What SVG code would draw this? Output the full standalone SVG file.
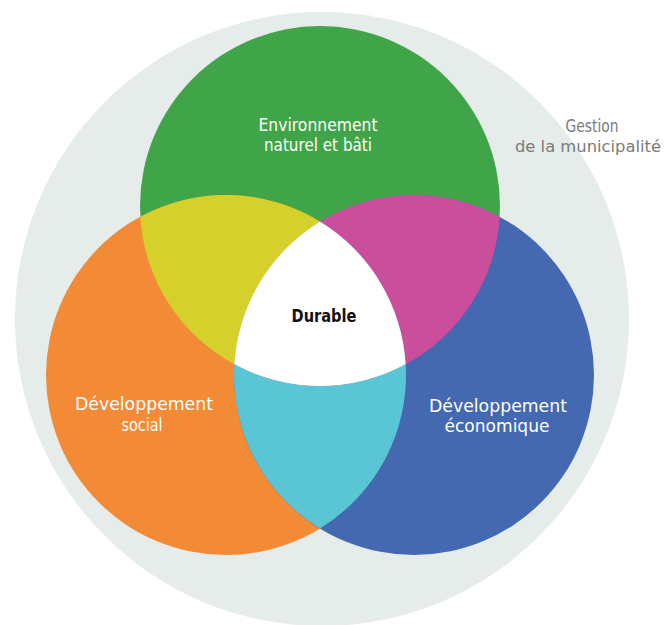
<svg xmlns="http://www.w3.org/2000/svg" width="670" height="625" viewBox="0 0 670 625">
  <style>
    .lbl { font-family: "DejaVu Sans", "Liberation Sans", sans-serif; font-size: 18px; text-anchor: middle; }
    .w { fill: #ffffff; }
    .g { fill: #7a7a7a; }
    .k { fill: #111111; font-weight: bold; }
  </style>
  <rect width="670" height="625" fill="#ffffff"/>
  <g id="municipalite">
    <circle cx="322" cy="319" r="307" fill="#e5ecea"/>
    <text class="lbl g" x="592" y="132" textLength="53" lengthAdjust="spacingAndGlyphs">Gestion</text>
    <text class="lbl g" x="588" y="152" style="font-size:16.5px" textLength="146" lengthAdjust="spacingAndGlyphs">de la municipalité</text>
  </g>
  <g id="environnement">
    <circle cx="320" cy="206" r="180" fill="#40a548"/>
  </g>
  <g id="social">
    <circle cx="226" cy="375" r="180" fill="#f38a36"/>
  </g>
  <g id="economique">
    <circle cx="414" cy="375" r="180" fill="#4469b1"/>
  </g>
  <g id="env-social">
    <path d="M140.32,216.70 A180,180 0 0 1 320,221.5 A180,180 0 0 0 234.32,364.30 A180,180 0 0 1 140.32,216.70 Z" fill="#d6d02c"/>
  </g>
  <g id="env-eco">
    <path d="M320,221.5 A180,180 0 0 1 499.68,216.70 A180,180 0 0 1 405.68,364.30 A180,180 0 0 0 320,221.5 Z" fill="#cb4e9d"/>
  </g>
  <g id="social-eco">
    <path d="M234.32,364.30 A180,180 0 0 0 405.68,364.30 A180,180 0 0 1 320,528.5 A180,180 0 0 1 234.32,364.30 Z" fill="#59c5d5"/>
  </g>
  <g id="durable">
    <path d="M320,221.5 A180,180 0 0 0 234.32,364.30 A180,180 0 0 0 405.68,364.30 A180,180 0 0 0 320,221.5 Z" fill="#ffffff"/>
    <text class="lbl k" x="324" y="322" textLength="65" lengthAdjust="spacingAndGlyphs">Durable</text>
  </g>
  <g id="labels">
    <text class="lbl w" x="318" y="131" textLength="119" lengthAdjust="spacingAndGlyphs">Environnement</text>
    <text class="lbl w" x="318" y="151" textLength="108" lengthAdjust="spacingAndGlyphs">naturel et bâti</text>
    <text class="lbl w" x="144" y="410" textLength="138" lengthAdjust="spacingAndGlyphs">Développement</text>
    <text class="lbl w" x="142" y="431" textLength="41" lengthAdjust="spacingAndGlyphs">social</text>
    <text class="lbl w" x="498" y="412" textLength="138" lengthAdjust="spacingAndGlyphs">Développement</text>
    <text class="lbl w" x="497" y="432" textLength="105" lengthAdjust="spacingAndGlyphs">économique</text>
  </g>
</svg>
